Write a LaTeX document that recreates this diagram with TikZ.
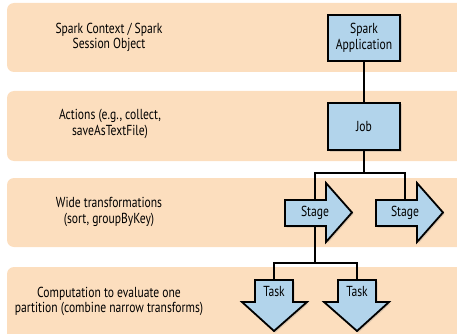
\documentclass[tikz,border=0pt]{standalone}
\usepackage{fontspec}
\setmainfont{PT Sans}[FakeStretch=0.8]
\usetikzlibrary{shadows}
\definecolor{band}{HTML}{FCDEBE}
\definecolor{boxblue}{HTML}{B2D4EB}
\tikzset{
  bandbox/.style={fill=band, draw=none, rounded corners=7pt},
  lbl/.style={align=center, font=\fontsize{14.5}{15.5}\selectfont, inner sep=0pt},
  bluebox/.style={fill=boxblue, draw=black, line width=1.8pt, align=center,
     font=\fontsize{14.5}{15.5}\selectfont, inner sep=0pt,
     drop shadow={opacity=0.25, shadow xshift=1.5pt, shadow yshift=-1.5pt}},
  shapeline/.style={fill=boxblue, draw=black, line width=1.8pt, line join=miter,
     drop shadow={opacity=0.25, shadow xshift=1.5pt, shadow yshift=-1.5pt}},
  txt/.style={font=\fontsize{14.5}{15.5}\selectfont, inner sep=0pt},
  conn/.style={draw=black, line width=1.4pt},
}
\begin{document}
\begin{tikzpicture}[x=1pt,y=-1pt]
\useasboundingbox (0,0) rectangle (457,334);
% bands
\path[bandbox] (7,3) rectangle (475,72);
\path[bandbox] (7,91) rectangle (475,161);
\path[bandbox] (7,178) rectangle (475,247);
\path[bandbox] (7,267) rectangle (475,350);
% labels
\node[lbl] (l1) at (109,37.5) {Spark Context / Spark\\Session Object};
\node[lbl] (l2) at (110,124) {Actions (e.g., collect,\\saveAsTextFile)};
\node[lbl] (l3) at (109,212) {Wide transformations\\(sort, groupByKey)};
\node[lbl] (l4) at (109,301.5) {Computation to evaluate one\\partition (combine narrow transforms)};
% boxes
\node[bluebox, minimum width=72pt, minimum height=46pt] (app) at (364,38) {Spark\\Application};
\node[bluebox, minimum width=72pt, minimum height=47pt] (job) at (364,126.5) {Job};
% stage arrows
\path[shapeline] (285,200) -- (326,200) -- (326,183) -- (352,212.5) -- (326,242) -- (326,226) -- (285,226) -- cycle;
\path[shapeline] (376,200) -- (417,200) -- (417,183) -- (443,212.5) -- (417,242) -- (417,226) -- (376,226) -- cycle;
\node[txt, minimum height=26pt] (s1) at (315,213) {Stage};
\node[txt, minimum height=26pt] (s2) at (405,213) {Stage};
% task arrows
\path[shapeline] (255,280) -- (293,280) -- (293,302) -- (307,302) -- (274,331) -- (242,302) -- (255,302) -- cycle;
\path[shapeline] (338,280) -- (376,280) -- (376,302) -- (389,302) -- (357,331) -- (324,302) -- (338,302) -- cycle;
\node[txt, minimum height=22pt, anchor=north] (t1) at (274,280) {Task};
\node[txt, minimum height=22pt, anchor=north] (t2) at (357,280) {Task};
% connectors
\coordinate (b1) at (364,173);
\coordinate (b2) at (315,263);
\draw[conn] (app.south) -- (job.north);
\draw[conn] (job.south) -- (b1);
\draw[conn] (s1.north) |- (b1) -| (s2.north);
\draw[conn] (s1.south) -- (b2);
\draw[conn] (t1.north) |- (b2) -| (t2.north);
\end{tikzpicture}
\end{document}
